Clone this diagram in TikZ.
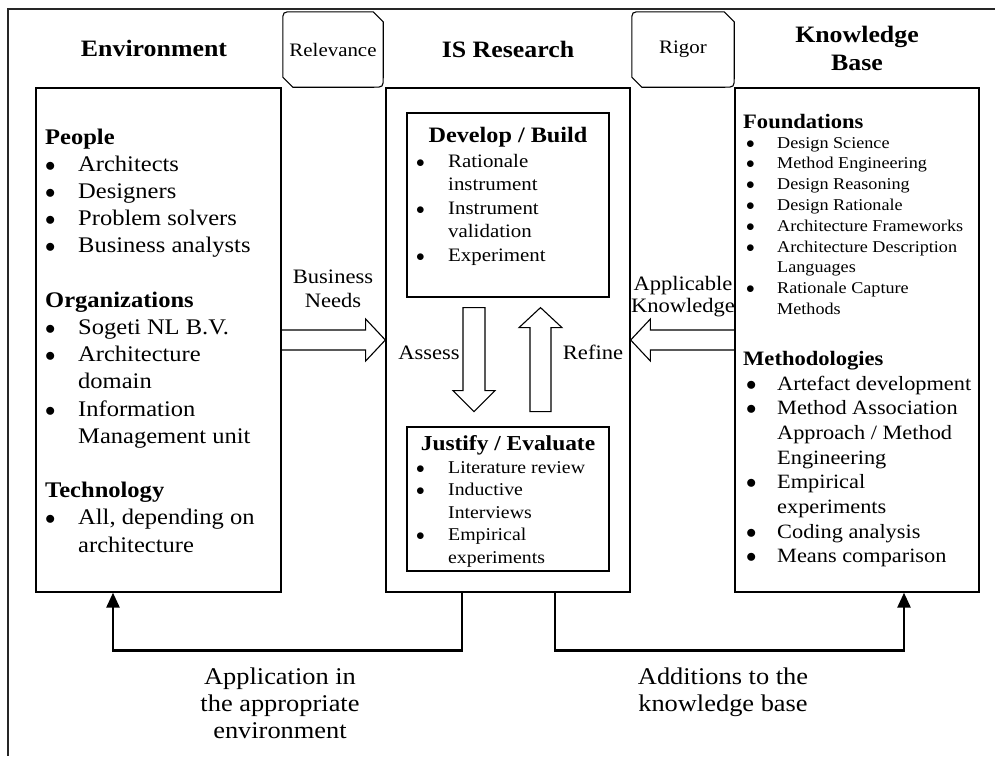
\documentclass[tikz,border=0pt]{standalone}
\usepackage{fontspec}
\setmainfont{Liberation Serif}[FakeStretch=1.1]
\usetikzlibrary{arrows.meta,calc}

% stacked lines: left aligned / centred, baseline = first line
\newcommand\rows[1]{\begin{tabular}[t]{@{}l@{}}#1\end{tabular}}
\newcommand\crows[1]{\begin{tabular}[t]{@{}c@{}}#1\end{tabular}}
% bullet item and its continuation indent
\newcommand\bdot{\ensuremath{\bullet}}
\newcommand\bitem[1][33pt]{\makebox[#1][l]{\bdot}}
\newcommand\cont[1][33pt]{\hspace*{#1}}
\newcommand\kbitem{\hspace*{3pt}\makebox[31pt][l]{\bdot}}
\newcommand\kbcont{\hspace*{34pt}}

\begin{document}
\begin{tikzpicture}[x=1pt,y=-1pt,
  box/.style={draw, line width=1.3pt, inner sep=0pt},
  txt/.style={anchor=base, inner sep=0pt},
  txtl/.style={anchor=base west, inner sep=0pt},
  blockarrow/.style={draw, line width=1.1pt, line join=miter},
  tag/.style={draw, line width=1.1pt},
  feedback/.style={line width=2.6pt, -{Triangle[length=15pt,width=13pt]}},
  ftitle/.style={font=\fontsize{23.5}{28}\selectfont\bfseries},
  flabel/.style={font=\fontsize{20.5}{24.5}\selectfont}]
\useasboundingbox (0,0) rectangle (995,756);

% outer frame
\draw[line width=1.5pt, black!85] (995,9) -- (8,9) -- (8,756);

% column titles
\node[txt, ftitle] (envtitle) at (154,56) {Environment};
\node[txt, ftitle] (istitle) at (508,57) {IS Research};
\node[txt, font=\fontsize{23.5}{28}\selectfont\bfseries] (kbtitle) at (857,42) {\crows{Knowledge\\Base}};

% relevance / rigor tags
\node[minimum width=100pt, minimum height=75pt, inner sep=0pt,
      font=\fontsize{19}{22}\selectfont] (rel) at (333,49.5) {Relevance};
\node[minimum width=102pt, minimum height=75pt, inner sep=0pt,
      font=\fontsize{19}{22}\selectfont] (rig) at (683,49.5) {Rigor};
\foreach \t in {rel,rig}{
  \draw[tag] ($(\t.north west)+(0,10)$) .. controls (\t.north west) .. ($(\t.north west)+(10,0)$)
    -- ($(\t.north east)+(-10,0)$) -- ($(\t.north east)+(0,10)$)
    -- ($(\t.south east)+(0,-10)$) .. controls (\t.south east) .. ($(\t.south east)+(-10,0)$)
    -- ($(\t.south west)+(10,0)$) -- ($(\t.south west)+(0,-10)$) -- cycle;
}

% main columns
\node[box, minimum width=245pt, minimum height=504pt] (env) at (158.5,340) {};
\node[box, minimum width=244pt, minimum height=504pt] (is) at (508,340) {};
\node[box, minimum width=244pt, minimum height=504pt] (kb) at (857,340) {};

% inner research boxes
\node[box, line width=1.2pt, minimum width=202pt, minimum height=184pt] (dev) at (508,205) {};
\node[box, line width=1.2pt, minimum width=202pt, minimum height=144pt] (jus) at (508,499) {};

% environment contents
\node[txtl, font=\fontsize{22.3}{27.2}\selectfont] (envlist) at (45,144) {\rows{%
\textbf{People}\\
\bitem Architects\\
\bitem Designers\\
\bitem Problem solvers\\
\bitem Business analysts\\
\\
\textbf{Organizations}\\
\bitem Sogeti NL B.V.\\
\bitem Architecture\\
\cont domain\\
\bitem Information\\
\cont Management unit\\
\\
\textbf{Technology}\\
\bitem All, depending on\\
\cont architecture}};

% develop / build
\node[txt, font=\fontsize{22}{26}\selectfont\bfseries] (devtitle) at (508,142) {Develop / Build};
\node[txtl, font=\fontsize{19}{23.6}\selectfont] (devlist) at (416,167) {\rows{%
\bitem[32pt]Rationale\\
\cont[32pt]instrument\\
\bitem[32pt]Instrument\\
\cont[32pt]validation\\
\bitem[32pt]Experiment}};

% justify / evaluate
\node[txt, font=\fontsize{21.3}{26}\selectfont\bfseries] (justitle) at (508,450) {Justify / Evaluate};
\node[txtl, font=\fontsize{18}{22.5}\selectfont] (juslist) at (416,473) {\rows{%
\bitem[32pt]Literature review\\
\bitem[32pt]Inductive\\
\cont[32pt]Interviews\\
\bitem[32pt]Empirical\\
\cont[32pt]experiments}};

% knowledge base contents
\node[txtl, font=\fontsize{20.5}{24}\selectfont\bfseries] (fndtitle) at (743,128) {Foundations};
\node[txtl, font=\fontsize{16.5}{20.8}\selectfont] (fndlist) at (743,148) {\rows{%
\kbitem Design Science\\
\kbitem Method Engineering\\
\kbitem Design Reasoning\\
\kbitem Design Rationale\\
\kbitem Architecture Frameworks\\
\kbitem Architecture Description\\
\kbcont Languages\\
\kbitem Rationale Capture\\
\kbcont Methods}};
\node[txtl, font=\fontsize{20.5}{24}\selectfont\bfseries] (methtitle) at (743,365) {Methodologies};
\node[txtl, font=\fontsize{20.3}{24.7}\selectfont] (methlist) at (743,390) {\rows{%
\kbitem Artefact development\\
\kbitem Method Association\\
\kbcont Approach / Method\\
\kbcont Engineering\\
\kbitem Empirical\\
\kbcont experiments\\
\kbitem Coding analysis\\
\kbitem Means comparison}};

% business needs / applicable knowledge
\draw[blockarrow] ($(env.east)+(0,-10)$) -- ($(env.east)+(84,-10)$) -- ($(env.east)+(84,-21)$)
  -- (is.west) -- ($(env.east)+(84,21)$) -- ($(env.east)+(84,10)$) -- ($(env.east)+(0,10)$);
\draw[blockarrow] ($(kb.west)+(0,-10)$) -- ($(kb.west)+(-84,-10)$) -- ($(kb.west)+(-84,-21)$)
  -- (is.east) -- ($(kb.west)+(-84,21)$) -- ($(kb.west)+(-84,10)$) -- ($(kb.west)+(0,10)$);
\node[txt, flabel] (bn) at (333,283) {\crows{Business\\Needs}};
\node[txt, font=\fontsize{20.5}{22}\selectfont] (ak) at (683,290) {\crows{Applicable\\Knowledge}};

% assess / refine
\draw[blockarrow] ($(dev.south)+(-45,10)$) -- ($(dev.south)+(-23,10)$) -- ($(dev.south)+(-23,93)$)
  -- ($(dev.south)+(-13,93)$) -- ($(dev.south)+(-34,114)$) -- ($(dev.south)+(-55,93)$)
  -- ($(dev.south)+(-45,93)$) -- cycle;
\draw[blockarrow] ($(dev.south)+(22,114)$) -- ($(dev.south)+(43,114)$) -- ($(dev.south)+(43,30)$)
  -- ($(dev.south)+(54,30)$) -- ($(dev.south)+(32.5,10)$) -- ($(dev.south)+(11,30)$)
  -- ($(dev.south)+(22,30)$) -- cycle;
\node[txt, flabel] (assess) at (429,359) {Assess};
\node[txt, flabel] (refine) at (593,359) {Refine};

% feedback loops
\draw[feedback] ($(is.south)+(-46,0)$) -- ++(0,58) -| ($(env.south)+(-45.5,0)$);
\draw[feedback] ($(is.south)+(47,0)$) -- ++(0,58) -| ($(kb.south)+(47,0)$);
\node[txt, font=\fontsize{24}{27}\selectfont] (appl) at (280,684) {\crows{Application in\\the appropriate\\environment}};
\node[txt, font=\fontsize{24}{27}\selectfont] (addk) at (723,684) {\crows{Additions to the\\knowledge base}};
\end{tikzpicture}
\end{document}
